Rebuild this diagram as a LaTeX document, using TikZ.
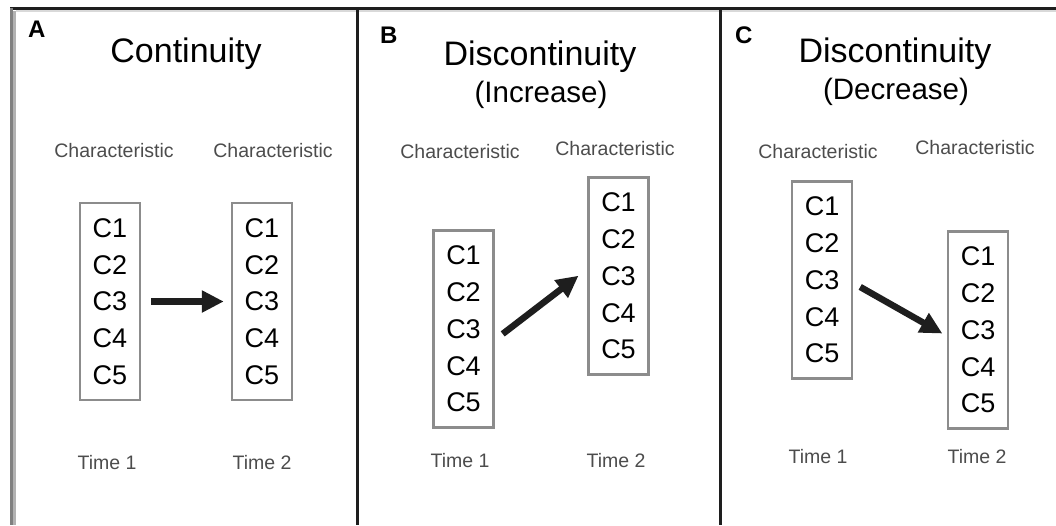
\documentclass[tikz,border=0pt]{standalone}
\usepackage{fontspec}
\setmainfont{Liberation Sans}
\usepackage{tikz}
\usetikzlibrary{arrows.meta,positioning}
\definecolor{framedark}{HTML}{1E1E1E}
\definecolor{boxgray}{HTML}{8C8C8C}

\begin{document}
\begin{tikzpicture}[x=1pt, y=-1pt,
  panel/.style={font=\fontsize{24}{28}\selectfont\bfseries, anchor=base west, inner sep=0pt},
  title/.style={font=\fontsize{34}{40}\selectfont, anchor=base, inner sep=0pt},
  subtitle/.style={font=\fontsize{29.5}{34}\selectfont, anchor=base, inner sep=0pt},
  small/.style={font=\fontsize{19.5}{22}\selectfont, text=black!70, anchor=base, inner sep=0pt},
  charbox/.style={draw=boxgray, line width=2.5pt, minimum width=60pt, minimum height=197pt, inner sep=0pt, align=center, font=\fontsize{27}{36.8}\selectfont},
  arr/.style={-{Triangle[length=22pt, width=21pt]}, line width=6.5pt, framedark}
]
  \useasboundingbox (0,0) rectangle (1056,525);

  \draw[line width=3pt, framedark] (10,8) -- (1056,8);
  \draw[line width=2pt, black!15] (16,11) -- (1056,11);
  \draw[line width=3pt, black!50] (11.5,8) -- (11.5,525);
  \draw[line width=3pt, black!30] (14.5,11) -- (14.5,525);
  \draw[line width=3pt, framedark] (357,8) -- (357,525);
  \draw[line width=3pt, framedark] (720,8) -- (720,525);

  \node[panel] (la) at (28,37) {A};
  \node[title] (ta) at (186,62) {Continuity};
  \node[small] (ka1) at (114,157) {Characteristic};
  \node[small] (ka2) at (273,157) {Characteristic};
  \node[charbox] (a1) at (110,301.5) {C1\\C2\\C3\\C4\\C5};
  \node[charbox] (a2) at (262,301.5) {C1\\C2\\C3\\C4\\C5};
  \node[small] (ma1) at (107,469) {Time 1};
  \node[small] (ma2) at (262,469) {Time 2};

  \node[panel] (lb) at (380,43) {B};
  \node[title] (tb) at (540,65) {Discontinuity};
  \node[subtitle] (sb) at (541,102) {(Increase)};
  \node[small] (kb1) at (460,158) {Characteristic};
  \node[small] (kb2) at (615,155) {Characteristic};
  \node[charbox] (b1) at (463.5,329) {C1\\C2\\C3\\C4\\C5};
  \node[charbox] (b2) at (618.5,276) {C1\\C2\\C3\\C4\\C5};
  \node[small] (mb1) at (460,467) {Time 1};
  \node[small] (mb2) at (616,467) {Time 2};

  \node[panel] (lc) at (735,43) {C};
  \node[title] (tc) at (895,62) {Discontinuity};
  \node[subtitle] (sc) at (896,99) {(Decrease)};
  \node[small] (kc1) at (818,158) {Characteristic};
  \node[small] (kc2) at (975,154) {Characteristic};
  \node[charbox] (c1) at (822,280) {C1\\C2\\C3\\C4\\C5};
  \node[charbox] (c2) at (978,330) {C1\\C2\\C3\\C4\\C5};
  \node[small] (mc1) at (818,463) {Time 1};
  \node[small] (mc2) at (977,463) {Time 2};

  \draw[arr, shorten <=10pt, shorten >=7pt] (a1.east) -- (a2.west);
  \draw[arr, shorten <=10pt, shorten >=11pt] ([yshift=-11pt]b1.east) -- ([yshift=7pt]b2.west);
  \draw[arr, shorten <=8pt, shorten >=5pt] ([yshift=-3pt]c1.east) -- ([yshift=-6pt]c2.west);
\end{tikzpicture}
\end{document}
